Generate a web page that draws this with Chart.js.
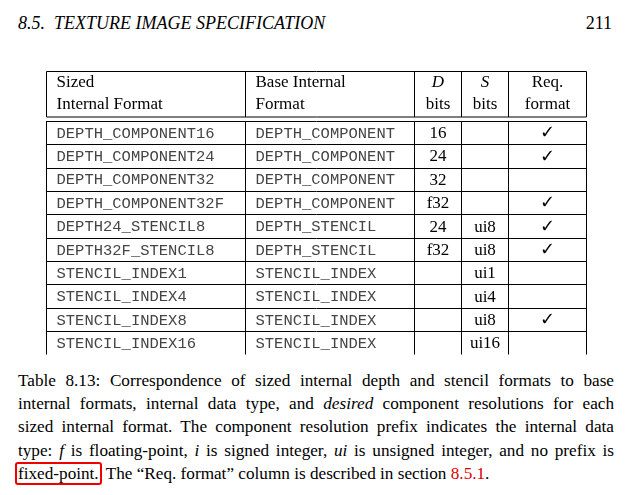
<!DOCTYPE html>
<html>
<head>
<meta charset="utf-8">
<script src="https://cdn.jsdelivr.net/npm/chart.js@4/dist/chart.umd.min.js"></script>
<style>
body { margin: 0; background: #fff; font-family: "Liberation Serif", serif; color: #000; }
#head { position: absolute; left: 18px; top: 13px; width: 594px; font-size: 18px; }
#head span { position: absolute; right: 0; top: 0; }
#wrap { position: absolute; left: 46px; top: 71px; width: 541px; height: 284px; }
#cap { position: absolute; left: 18px; top: 369px; width: 596px; font-size: 17.2px; line-height: 23.2px; }
#cap div { text-align: justify; text-align-last: justify; white-space: nowrap; }
#cap div.last { text-align-last: left; }
#cap a { color: #d00; text-decoration: none; }
.box { border: 2px solid #e00; border-radius: 3px; padding: 0 1px; margin-left: -3px; }
</style>
</head>
<body>
<div id="head"><i>8.5.&nbsp; TEXTURE IMAGE SPECIFICATION</i><span>211</span></div>
<div id="wrap"><canvas id="tbl"></canvas></div>
<div id="cap">
<div>Table 8.13: Correspondence of sized internal depth and stencil formats to base</div>
<div>internal formats, internal data type, and <i>desired</i> component resolutions for each</div>
<div>sized internal format. The component resolution prefix indicates the internal data</div>
<div>type: <i>f</i> is floating-point, <i>i</i> is signed integer, <i>ui</i> is unsigned integer, and no prefix is</div>
<div class="last"><span class="box">fixed-point.</span> The “Req. format” column is described in section <a>8.5.1</a>.</div>
</div>
<script>
// Datos de la tabla
const sizedFormats = ['DEPTH_COMPONENT16', 'DEPTH_COMPONENT24', 'DEPTH_COMPONENT32', 'DEPTH_COMPONENT32F', 'DEPTH24_STENCIL8', 'DEPTH32F_STENCIL8', 'STENCIL_INDEX1', 'STENCIL_INDEX4', 'STENCIL_INDEX8', 'STENCIL_INDEX16'];
const baseFormats = ['DEPTH_COMPONENT', 'DEPTH_COMPONENT', 'DEPTH_COMPONENT', 'DEPTH_COMPONENT', 'DEPTH_STENCIL', 'DEPTH_STENCIL', 'STENCIL_INDEX', 'STENCIL_INDEX', 'STENCIL_INDEX', 'STENCIL_INDEX'];
const dBits = ['16', '24', '32', 'f32', '24', 'f32', '', '', '', ''];
const sBits = ['', '', '', '', 'ui8', 'ui8', 'ui1', 'ui4', 'ui8', 'ui16'];
const reqFormat = [true, true, false, true, true, true, false, false, true, false];

// Dibuja la tabla sobre el área del gráfico
const tablePlugin = {
    id: 'tablePlugin',
    afterDraw(chart) {
        const ctx = chart.ctx;
        const a = chart.chartArea;
        const L = a.left + 0.5, R = a.right - 0.5, T = a.top + 0.5;
        const cols = [L, L + 199, L + 368, L + 415, L + 462, R];
        const headH = 45.5;
        const rowTop = T + headH + 4;
        const rowH = (a.bottom - 0.5 - rowTop) / sizedFormats.length;
        ctx.save();
        ctx.strokeStyle = '#000';
        ctx.lineWidth = 1;
        ctx.beginPath();
        ctx.moveTo(L, T); ctx.lineTo(R, T);
        ctx.moveTo(L, T + headH); ctx.lineTo(R, T + headH);
        for (let i = 0; i <= sizedFormats.length; i++) {
            const y = Math.round(rowTop + i * rowH) + 0.5;
            ctx.moveTo(L, y); ctx.lineTo(R, y);
        }
        cols.forEach(x => {
            ctx.moveTo(x, T); ctx.lineTo(x, T + headH);
            ctx.moveTo(x, rowTop); ctx.lineTo(x, a.bottom - 0.5);
        });
        ctx.stroke();

        // encabezado
        ctx.fillStyle = '#000';
        ctx.textBaseline = 'middle';
        ctx.font = '17px "Liberation Serif"';
        ctx.textAlign = 'left';
        ctx.fillText('Sized', cols[0] + 10, T + 11);
        ctx.fillText('Internal Format', cols[0] + 10, T + 33);
        ctx.fillText('Base Internal', cols[1] + 10, T + 11);
        ctx.fillText('Format', cols[1] + 10, T + 33);
        ctx.textAlign = 'center';
        ctx.font = 'italic 17px "Liberation Serif"';
        ctx.fillText('D', (cols[2] + cols[3]) / 2, T + 11);
        ctx.fillText('S', (cols[3] + cols[4]) / 2, T + 11);
        ctx.font = '17px "Liberation Serif"';
        ctx.fillText('bits', (cols[2] + cols[3]) / 2, T + 33);
        ctx.fillText('bits', (cols[3] + cols[4]) / 2, T + 33);
        ctx.fillText('Req.', (cols[4] + cols[5]) / 2, T + 11);
        ctx.fillText('format', (cols[4] + cols[5]) / 2, T + 33);

        // filas
        sizedFormats.forEach((name, i) => {
            const y = rowTop + i * rowH + rowH / 2 + 1;
            ctx.textAlign = 'left';
            ctx.fillStyle = '#444';
            ctx.font = '15.5px "Liberation Mono"';
            ctx.fillText(name, cols[0] + 10, y);
            ctx.fillText(baseFormats[i], cols[1] + 10, y);
            ctx.fillStyle = '#000';
            ctx.textAlign = 'center';
            ctx.font = '17px "Liberation Serif"';
            ctx.fillText(dBits[i], (cols[2] + cols[3]) / 2, y);
            ctx.fillText(sBits[i], (cols[3] + cols[4]) / 2, y);
            if (reqFormat[i]) {
                ctx.font = '18px "DejaVu Sans"';
                ctx.fillText('\u2713', (cols[4] + cols[5]) / 2, y);
            }
        });
        ctx.restore();
    }
};

const ctx_tabla = document.getElementById('tbl').getContext('2d');
const tablaChart = new Chart(ctx_tabla, {
    type: 'bar',
    data: {
        labels: sizedFormats,
        datasets: [{ data: sizedFormats.map(() => 0), backgroundColor: 'rgba(0,0,0,0)' }]
    },
    options: {
        responsive: true,
        maintainAspectRatio: false,
        animation: false,
        events: [],
        layout: { padding: 0 },
        plugins: { legend: { display: false }, tooltip: { enabled: false } },
        scales: { x: { display: false }, y: { display: false } }
    },
    plugins: [tablePlugin]
});
</script>
</body>
</html>
